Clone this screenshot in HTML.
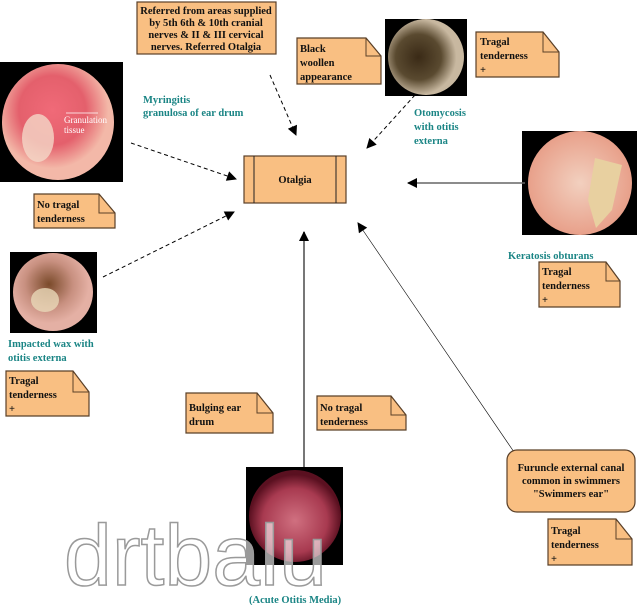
<!DOCTYPE html>
<html><head><meta charset="utf-8"><style>
html,body{margin:0;padding:0;background:#fff}
svg{display:block}
text{font-family:"Liberation Serif",serif}
.n{fill:#f9bf82;stroke:#5a4028;stroke-width:1.2}
.b{font-weight:bold;font-size:10.5px;fill:#111}
.t{font-weight:bold;font-size:10.5px;fill:#1b8585}
</style></head><body>
<svg width="640" height="605" viewBox="0 0 640 605" xmlns="http://www.w3.org/2000/svg">
<defs>
<marker id="a" viewBox="0 0 10 10" refX="9" refY="5" markerUnits="userSpaceOnUse" markerWidth="11" markerHeight="10" orient="auto"><path d="M0,0 L10,5 L0,10 z" fill="#000"/></marker>
<radialGradient id="g1" cx="45%" cy="40%"><stop offset="0" stop-color="#f06a78"/><stop offset=".6" stop-color="#e4606c"/><stop offset="1" stop-color="#f3b8a8"/></radialGradient>
<radialGradient id="g2" cx="40%" cy="50%"><stop offset="0" stop-color="#3a2a16"/><stop offset=".6" stop-color="#5a4a30"/><stop offset="1" stop-color="#c8b8a0"/></radialGradient>
<radialGradient id="g3" cx="50%" cy="50%"><stop offset="0" stop-color="#f2d0bf"/><stop offset="1" stop-color="#e8a08a"/></radialGradient>
<radialGradient id="g4" cx="45%" cy="40%"><stop offset="0" stop-color="#7a4a2a"/><stop offset=".6" stop-color="#c89080"/><stop offset="1" stop-color="#e4b0a4"/></radialGradient>
<radialGradient id="g5" cx="50%" cy="55%"><stop offset="0" stop-color="#d07080"/><stop offset=".7" stop-color="#a83a50"/><stop offset="1" stop-color="#5a1020"/></radialGradient>
</defs>

<rect x="0" y="62" width="123" height="120" fill="#000"/>
<ellipse cx="58" cy="122" rx="56" ry="58" fill="url(#g1)"/>
<ellipse cx="38" cy="138" rx="16" ry="24" fill="#f4d8c8" opacity=".8"/>
<line x1="66" y1="113" x2="98" y2="113" stroke="#fff" stroke-width="0.8"/>
<text x="64" y="123" font-size="9" fill="#fff">Granulation</text>
<text x="64" y="133" font-size="9" fill="#fff">tissue</text>

<rect x="385" y="19" width="82" height="77" fill="#000"/>
<circle cx="426" cy="57" r="38" fill="url(#g2)"/>

<rect x="522" y="131" width="115" height="104" fill="#000"/>
<circle cx="580" cy="183" r="52" fill="url(#g3)"/>
<path d="M595,158 L622,165 L612,210 L596,228 L588,200 Z" fill="#e8d0a0"/>

<rect x="10" y="252" width="87" height="81" fill="#000"/>
<ellipse cx="53" cy="292" rx="40" ry="39" fill="url(#g4)"/>
<ellipse cx="45" cy="300" rx="14" ry="12" fill="#e8d8b8" opacity=".8"/>

<rect x="246" y="467" width="97" height="98" fill="#000"/>
<circle cx="295" cy="516" r="46" fill="url(#g5)"/>

<text x="64" y="585" style="font-family:'Liberation Sans',sans-serif;font-size:86px" fill="#fff" fill-opacity="0.6" stroke="#9a9a9a" stroke-width="1.5">drtbalu</text>

<line x1="270" y1="75" x2="296" y2="135" stroke="#000" stroke-dasharray="4,3" marker-end="url(#a)"/>
<line x1="415" y1="95" x2="367" y2="148" stroke="#000" stroke-dasharray="4,3" marker-end="url(#a)"/>
<line x1="131" y1="143" x2="236" y2="179" stroke="#000" stroke-dasharray="4,3" marker-end="url(#a)"/>
<line x1="525" y1="183" x2="408" y2="183" stroke="#666" stroke-width="1.5" marker-end="url(#a)"/>
<line x1="103" y1="277" x2="234" y2="212" stroke="#000" stroke-dasharray="4,3" marker-end="url(#a)"/>
<line x1="304" y1="467" x2="304" y2="232" stroke="#777" stroke-width="2" marker-end="url(#a)"/>
<line x1="514" y1="452" x2="358" y2="223" stroke="#000" stroke-width="0.6" marker-end="url(#a)"/>

<rect x="244" y="156" width="102" height="47" class="n"/>
<line x1="254" y1="156" x2="254" y2="203" stroke="#222"/>
<line x1="336" y1="156" x2="336" y2="203" stroke="#222"/>
<text x="295" y="183" text-anchor="middle" class="b">Otalgia</text>

<rect x="137" y="2" width="139" height="52" class="n"/>
<text text-anchor="middle" class="b" font-size="10"><tspan x="206" y="14">Referred from areas supplied</tspan><tspan x="206" y="26">by 5th 6th &amp; 10th cranial</tspan><tspan x="206" y="38">nerves &amp; II &amp; III cervical</tspan><tspan x="206" y="50">nerves.  Referred Otalgia</tspan></text>

<path class="n" d="M297,38 H366 L381,56 V84 H297 Z"/><path d="M366,38 V56 H381" fill="none" stroke="#5a4028"/>
<text class="b"><tspan x="300" y="52">Black</tspan><tspan x="300" y="66">woollen</tspan><tspan x="300" y="80">appearance</tspan></text>

<path class="n" d="M476,32 H543 L559,52 V77 H476 Z"/><path d="M543,32 V52 H559" fill="none" stroke="#5a4028"/>
<text class="b"><tspan x="480" y="45">Tragal</tspan><tspan x="480" y="59">tenderness</tspan><tspan x="480" y="73">+</tspan></text>

<path class="n" d="M34,194 H99 L115,213 V228 H34 Z"/><path d="M99,194 V213 H115" fill="none" stroke="#5a4028"/>
<text class="b"><tspan x="37" y="208">No tragal</tspan><tspan x="37" y="222">tenderness</tspan></text>

<path class="n" d="M539,262 H606 L620,281 V307 H539 Z"/><path d="M606,262 V281 H620" fill="none" stroke="#5a4028"/>
<text class="b"><tspan x="542" y="275">Tragal</tspan><tspan x="542" y="289">tenderness</tspan><tspan x="542" y="303">+</tspan></text>

<path class="n" d="M6,371 H73 L89,392 V416 H6 Z"/><path d="M73,371 V392 H89" fill="none" stroke="#5a4028"/>
<text class="b"><tspan x="9" y="384">Tragal</tspan><tspan x="9" y="398">tenderness</tspan><tspan x="9" y="412">+</tspan></text>

<path class="n" d="M186,393 H257 L273,413 V433 H186 Z"/><path d="M257,393 V413 H273" fill="none" stroke="#5a4028"/>
<text class="b"><tspan x="189" y="411">Bulging ear</tspan><tspan x="189" y="425">drum</tspan></text>

<path class="n" d="M317,396 H391 L406,415 V430 H317 Z"/><path d="M391,396 V415 H406" fill="none" stroke="#5a4028"/>
<text class="b"><tspan x="320" y="411">No tragal</tspan><tspan x="320" y="425">tenderness</tspan></text>

<rect x="507" y="450" width="128" height="62" rx="10" class="n"/>
<text text-anchor="middle" class="b" font-size="10"><tspan x="571" y="471">Furuncle external canal</tspan><tspan x="571" y="484">common in swimmers</tspan><tspan x="571" y="497">"Swimmers ear"</tspan></text>

<path class="n" d="M548,519 H616 L632,539 V565 H548 Z"/><path d="M616,519 V539 H632" fill="none" stroke="#5a4028"/>
<text class="b"><tspan x="551" y="534">Tragal</tspan><tspan x="551" y="548">tenderness</tspan><tspan x="551" y="562">+</tspan></text>

<text class="t"><tspan x="143" y="103">Myringitis</tspan><tspan x="143" y="116">granulosa of ear drum</tspan></text>
<text class="t"><tspan x="414" y="116">Otomycosis</tspan><tspan x="414" y="130">with otitis</tspan><tspan x="414" y="144">externa</tspan></text>
<text class="t" font-weight="normal" font-size="11"><tspan x="508" y="259">Keratosis obturans</tspan></text>
<text class="t"><tspan x="8" y="347">Impacted wax with</tspan><tspan x="8" y="361">otitis externa</tspan></text>
<text class="t" x="249" y="603">(Acute Otitis Media)</text>
</svg>
</body></html>
